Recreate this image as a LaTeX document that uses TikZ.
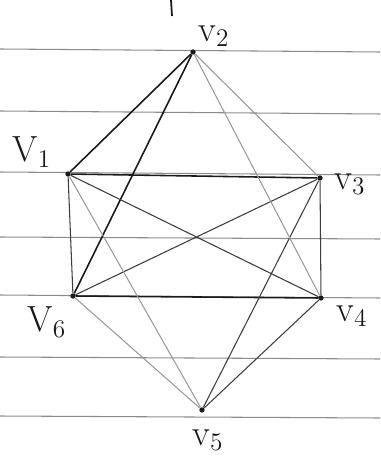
\documentclass[tikz,border=0pt]{standalone}
\usepackage{tikz}
\usetikzlibrary{positioning}
\definecolor{ink}{HTML}{1A1A1A}
\definecolor{pencil}{HTML}{9A9A9A}
\definecolor{rule}{HTML}{8C8C8C}
\tikzset{
  vert/.style={circle,fill=ink,inner sep=0pt,minimum size=3pt},
  vlabel/.style={text=ink,font=\huge,inner sep=1pt},
  inkedge/.style={draw=ink,line width=0.9pt},
  thinedge/.style={draw=ink!85,line width=0.6pt},
  pencedge/.style={draw=pencil,line width=0.6pt},
  ruleline/.style={draw=rule,line width=0.6pt},
}
\begin{document}
\begin{tikzpicture}[x=0.02cm,y=-0.02cm]
  \useasboundingbox[fill=white] (0,0) rectangle (380,469);
  % ruled paper
  \foreach \ya/\yb in {49/52, 111/114, 172/175, 237/239, 295/298, 357/359, 416/418}
    \draw[ruleline] (0,\ya) -- (380,\yb);
  \draw[ink,line width=1pt] (171,0) -- (172,16);
  % vertices
  \node[vert] (v1) at (68,174) {};
  \node[vert] (v2) at (193,52) {};
  \node[vert] (v3) at (320,178) {};
  \node[vert] (v4) at (321,298) {};
  \node[vert] (v5) at (202,410) {};
  \node[vert] (v6) at (73,296) {};
  % labels
  \node[vlabel] (l1) at (32,152) {V$_1$};
  \node[vlabel] (l2) at (214,36) {v$_2$};
  \node[vlabel] (l3) at (350,184) {v$_3$};
  \node[vlabel] (l4) at (352,316) {v$_4$};
  \node[vlabel] (l5) at (208,440) {v$_5$};
  \node[vlabel] (l6) at (47,322) {V$_6$};
  % edges
  \draw[inkedge] (v2) -- (v1);
  \draw[inkedge] (v2) -- (v6);
  \draw[inkedge] (v1) -- (v3);
  \draw[inkedge] (v6) -- (v4);
  \draw[thinedge] (v1) -- (v6);
  \draw[thinedge] (v3) -- (v4);
  \draw[thinedge] (v1) -- (v4);
  \draw[thinedge] (v3) -- (v6);
  \draw[thinedge] (v3) -- (v5);
  \draw[thinedge] (v4) -- (v5);
  \draw[pencedge] (v2) -- (v3);
  \draw[pencedge] (v2) -- (v4);
  \draw[pencedge] (v1) -- (v5);
  \draw[pencedge] (v6) -- (v5);
\end{tikzpicture}
\end{document}
